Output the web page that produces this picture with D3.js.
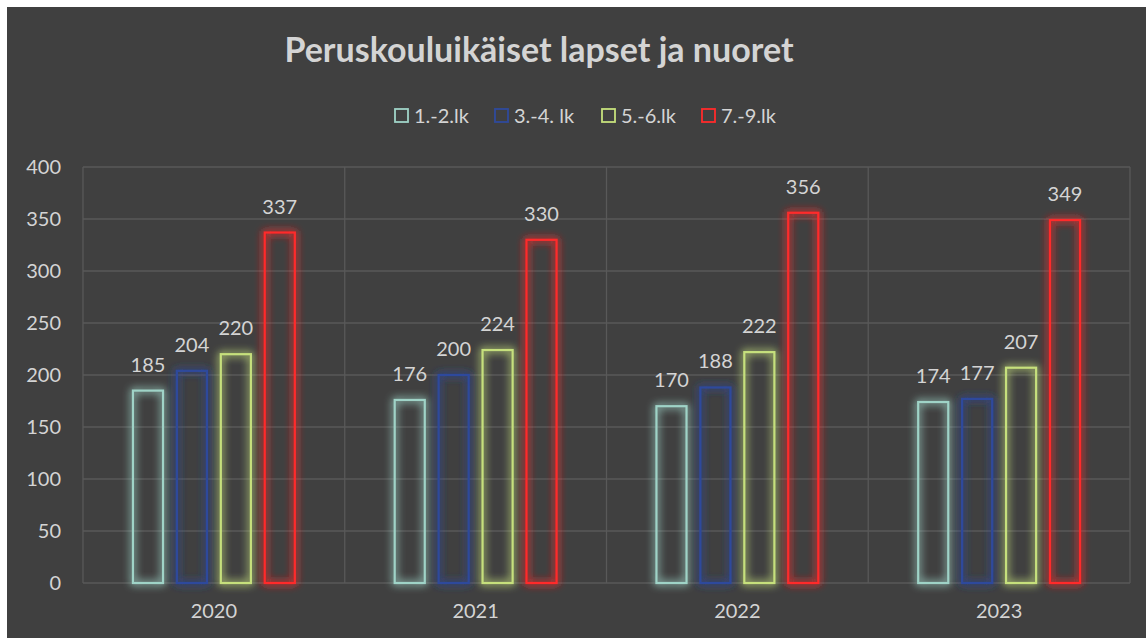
<!DOCTYPE html>
<html>
<head>
	<script src="https://d3js.org/d3.v7.min.js"></script>
	<style>
		html, body { margin: 0; padding: 0; background: #fff; }
		svg { display: block; }
		text { font-family: Lato, "Open Sans", sans-serif; }
	</style>
</head>
<body>
	<svg width="1146" height="638"></svg>
	<script>
		// data
		const years = ["2020", "2021", "2022", "2023"];
		const seriesNames = ["1.-2.lk", "3.-4. lk", "5.-6.lk", "7.-9.lk"];
		const seriesColors = ["#9fd3c7", "#2f4a9c", "#c6e07c", "#ff2b2b"];
		const values = [
			[185, 176, 170, 174],
			[204, 200, 188, 177],
			[220, 224, 222, 207],
			[337, 330, 356, 349]
		];
		const yTicks = [0, 50, 100, 150, 200, 250, 300, 350, 400];

		const svg = d3.select("svg");
		const textColor = "#d4d4d4";

		// chart background (white margin top/left like the screenshot)
		svg.append("rect")
			.attr("x", 7).attr("y", 7)
			.attr("width", 1146 - 7).attr("height", 638 - 7)
			.attr("fill", "#404040");

		// glow filter, soft halo around the outline
		const defs = svg.append("defs");
		const f = defs.append("filter")
			.attr("id", "glow")
			.attr("x", "-60%").attr("y", "-20%")
			.attr("width", "220%").attr("height", "140%");
		f.append("feGaussianBlur")
			.attr("in", "SourceGraphic")
			.attr("stdDeviation", 4.5)
			.attr("result", "blur");
		f.append("feComponentTransfer")
			.attr("in", "blur")
			.attr("result", "blur2")
			.append("feFuncA")
			.attr("type", "linear")
			.attr("slope", 1.8);
		const m = f.append("feMerge");
		m.append("feMergeNode").attr("in", "blur2");
		m.append("feMergeNode").attr("in", "SourceGraphic");

		const plotLeft = 83, plotRight = 1130, plotTop = 167, plotBottom = 583;

		const x0 = d3.scaleBand().domain(years).range([plotLeft, plotRight]).padding(0);
		const x1 = d3.scaleBand().domain(d3.range(seriesNames.length))
			.range([x0.bandwidth() * 0.187, x0.bandwidth() * 0.813])
			.paddingInner(0.27);
		const y = d3.scaleLinear().domain([0, 400]).range([plotBottom, plotTop]);

		// horizontal gridlines
		svg.append("g")
			.selectAll("line")
			.data(yTicks)
			.enter()
			.append("line")
			.attr("x1", plotLeft).attr("x2", plotRight)
			.attr("y1", function (d) { return y(d); })
			.attr("y2", function (d) { return y(d); })
			.attr("stroke", "#595959")
			.attr("stroke-width", 1.3);

		// vertical category gridlines
		svg.append("g")
			.selectAll("line")
			.data(years.map(function (d) { return x0(d); }).concat([plotRight]))
			.enter()
			.append("line")
			.attr("x1", function (d) { return d; })
			.attr("x2", function (d) { return d; })
			.attr("y1", plotTop).attr("y2", plotBottom)
			.attr("stroke", "#595959")
			.attr("stroke-width", 1.3);

		// y axis labels
		const yAxis = d3.axisLeft(y).tickValues(yTicks).tickSize(0).tickPadding(0);
		const yg = svg.append("g")
			.attr("transform", "translate(" + 61 + ",0)")
			.call(yAxis);
		yg.select(".domain").remove();
		yg.selectAll("text")
			.attr("fill", textColor)
			.style("font-size", "20px")
			.style("font-family", "Lato, 'Open Sans', sans-serif");

		// x axis labels
		const xAxis = d3.axisBottom(x0).tickSize(0).tickPadding(0);
		const xg = svg.append("g")
			.attr("transform", "translate(0," + 604 + ")")
			.call(xAxis);
		xg.select(".domain").remove();
		xg.selectAll("text")
			.attr("fill", textColor)
			.style("font-size", "20px")
			.style("font-family", "Lato, 'Open Sans', sans-serif");

		// bars
		const groups = svg.append("g")
			.selectAll("g")
			.data(seriesNames)
			.enter()
			.append("g");

		groups.each(function (s, si) {
			const g = d3.select(this);
			const data = years.map(function (yr, yi) { return { year: yr, v: values[si][yi] }; });
			g.selectAll("rect")
				.data(data)
				.enter()
				.append("rect")
				.attr("x", function (d) { return x0(d.year) + x1(si) + 1; })
				.attr("y", function (d) { return y(d.v); })
				.attr("width", x1.bandwidth() - 2)
				.attr("height", function (d) { return y(0) - y(d.v); })
				.attr("fill", "none")
				.attr("stroke", seriesColors[si])
				.attr("stroke-width", 2.2)
				.attr("filter", "url(#glow)");
			g.selectAll("text")
				.data(data)
				.enter()
				.append("text")
				.attr("x", function (d) { return x0(d.year) + x1(si) + x1.bandwidth() / 2; })
				.attr("y", function (d) { return y(d.v) - 19; })
				.attr("text-anchor", "middle")
				.attr("fill", textColor)
				.style("font-size", "20px")
				.text(function (d) { return d.v; });
		});

		// title
		svg.append("text")
			.attr("x", 539).attr("y", 62)
			.attr("text-anchor", "middle")
			.attr("fill", textColor)
			.style("font-size", "34px")
			.style("font-weight", "bold")
			.text("Peruskouluikäiset lapset ja nuoret");

		// legend
		const legendX = [394, 494, 601, 701];
		const legend = svg.append("g")
			.selectAll("g")
			.data(seriesNames)
			.enter()
			.append("g")
			.attr("transform", function (d, i) { return "translate(" + legendX[i] + ",108)"; });
		legend.append("rect")
			.attr("x", 1).attr("y", 1)
			.attr("width", 13).attr("height", 13)
			.attr("fill", "none")
			.attr("stroke", function (d, i) { return seriesColors[i]; })
			.attr("stroke-width", 1.8);
		legend.append("text")
			.attr("x", 20).attr("y", 15)
			.attr("fill", textColor)
			.style("font-size", "20px")
			.text(function (d) { return d; });
	</script>
</body>
</html>
